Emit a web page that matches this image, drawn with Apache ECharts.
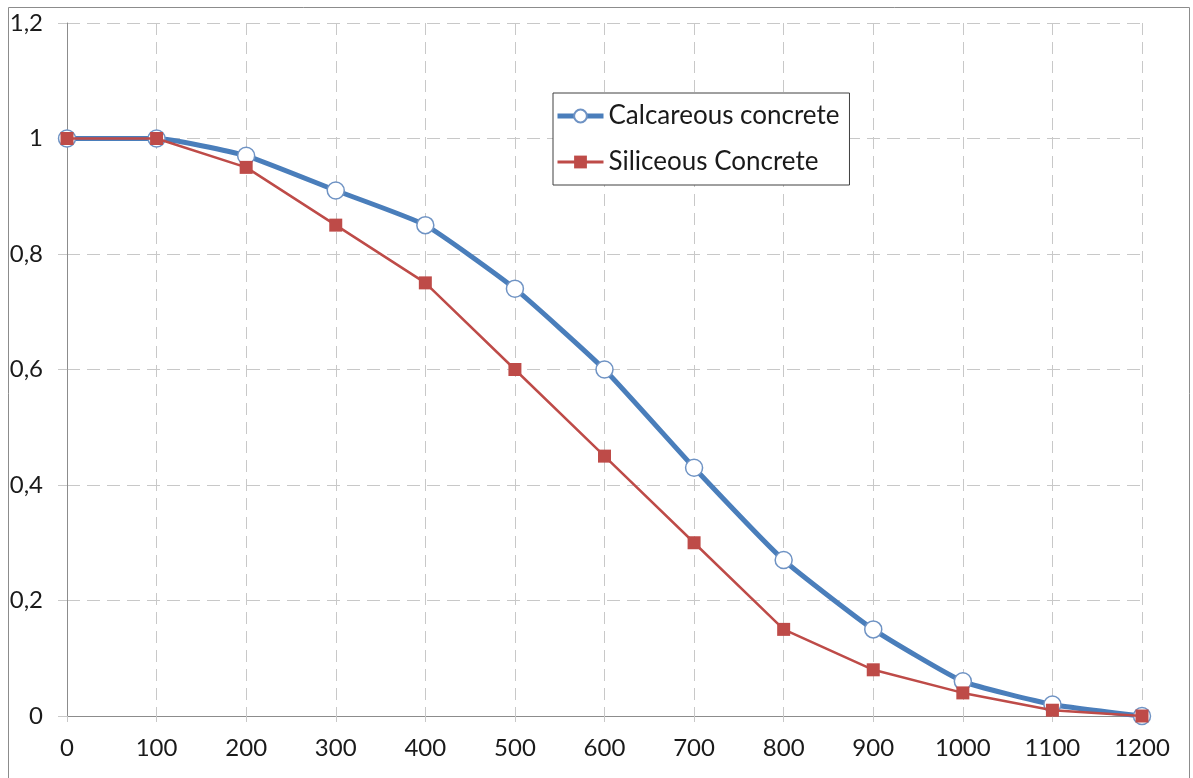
<!DOCTYPE html>
<html>
<head>
<meta charset="utf-8">
<script src="https://cdn.jsdelivr.net/npm/echarts@6/dist/echarts.min.js"></script>
<style>html,body{margin:0;padding:0;background:#fff}#c{width:1193px;height:778px}</style>
</head>
<body>
<div id="c"></div>
<script>
var temperatures = [0,100,200,300,400,500,600,700,800,900,1000,1100,1200];
var calcareous = [1,1,0.97,0.91,0.85,0.74,0.6,0.43,0.27,0.15,0.06,0.02,0];
var siliceous = [1,1,0.95,0.85,0.75,0.6,0.45,0.3,0.15,0.08,0.04,0.01,0];
var seriesNames = ['Calcareous concrete','Siliceous Concrete'];

var FONT = 'Lato';
var chart = echarts.init(document.getElementById('c'), null, {renderer:'canvas'});
function pairs(ys){ return temperatures.map(function(x,i){return [x, ys[i]];}); }
chart.setOption({
  animation:false,
  backgroundColor:'#fff',
  graphic:[{type:'rect', shape:{x:8.5,y:7.5,width:1181,height:800}, style:{fill:'none',stroke:'#8c8c8c',lineWidth:1}, silent:true, z:-1}],
  grid:{left:67, right:51, top:23, bottom:62, containLabel:false},
  legend:{
    orient:'vertical', left:553, top:93,
    padding:[10,10,10,2], itemGap:20, itemWidth:46, itemHeight:16,
    borderColor:'#404040', borderWidth:1, backgroundColor:'#fff',
    textStyle:{fontFamily:FONT, fontSize:26, color:'#1a1a1a'},
    data:[
      {name:seriesNames[0], lineStyle:{width:5, color:'#4a7ebb'}},
      {name:seriesNames[1], lineStyle:{width:3, color:'#be4b48'}}
    ]
  },
  xAxis:{
    type:'value', min:0, max:1200, interval:100,
    axisLine:{show:true, onZero:false, lineStyle:{color:'#8c8c8c', width:1}},
    axisTick:{show:true, length:6, lineStyle:{color:'#c8c8c8', type:[12,7]}},
    axisLabel:{fontFamily:FONT, fontSize:24, color:'#1a1a1a', margin:20,
      formatter:function(v){ return String(v); }},
    splitLine:{show:true, lineStyle:{color:'#c8c8c8', type:[12,7], width:1}}
  },
  yAxis:{
    type:'value', min:0, max:1.2, interval:0.2,
    axisLine:{show:true, lineStyle:{color:'#8c8c8c', width:1}},
    axisTick:{show:true, length:9, lineStyle:{color:'#c8c8c8', type:[13,7]}},
    axisLabel:{fontFamily:FONT, fontSize:24, color:'#1a1a1a', margin:24,
      formatter:function(v){ return String(Math.round(v*10)/10).replace('.',','); }},
    splitLine:{show:true, lineStyle:{color:'#c8c8c8', type:[13,7], width:1}}
  },
  series:[
    {name:seriesNames[0], type:'line', data:pairs(calcareous), smooth:0.15,
     lineStyle:{color:'#4a7ebb', width:5}, symbol:'circle', symbolSize:17,
     itemStyle:{color:'#ffffff', borderColor:'#6f93c4', borderWidth:1.5}, z:2},
    {name:seriesNames[1], type:'line', data:pairs(siliceous),
     lineStyle:{color:'#be4b48', width:2.5}, symbol:'rect', symbolSize:13,
     itemStyle:{color:'#be4b48', borderColor:'#be4b48', borderWidth:0}, z:3}
  ]
});
</script>
</body>
</html>
